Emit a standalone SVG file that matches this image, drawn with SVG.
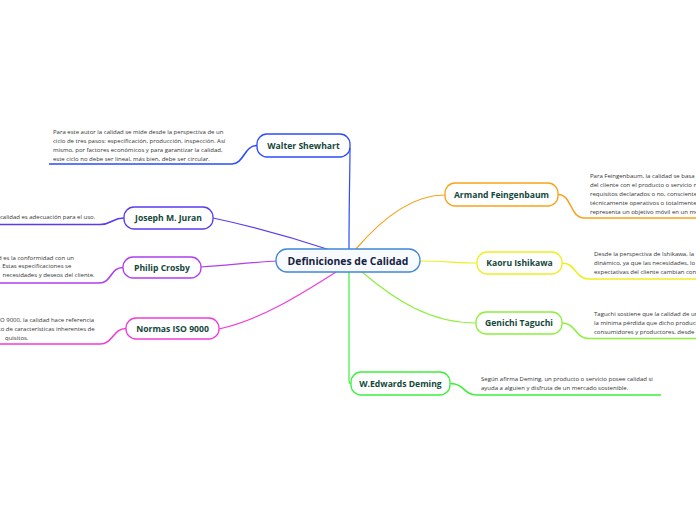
<svg xmlns="http://www.w3.org/2000/svg" width="696" height="520" viewBox="0 0 696 520">
<style>
.node rect{fill:#ffffff;stroke-width:1.3}
.lbl{font-family:"Open Sans","Noto Sans",sans-serif;font-weight:bold;font-size:8.6px;fill:#14473a;text-anchor:middle;dominant-baseline:central}
.desc{font-family:"Open Sans","Noto Sans",sans-serif;font-size:6px;fill:#333333}
.conn path{fill:none;stroke-width:1.2}
.ul{fill:none;stroke-width:1.6}
</style>
<rect width="696" height="520" fill="#ffffff"/>
<g id="connectors" class="conn">
<path d="M349 249 C349 200 350 170 350 148" stroke="#2b4cff"/>
<path d="M213 218 C260 228 300 240 330 250" stroke="#5a3cf0"/>
<path d="M201 267 C230 265 255 262 278 261" stroke="#b03ef0"/>
<path d="M219 329 C260 320 300 295 336 272" stroke="#f03cd8"/>
<path d="M356 249 C385 215 415 195 445 195" stroke="#f7a21b"/>
<path d="M420 261 C440 261 460 263 477 263" stroke="#eeee22"/>
<path d="M362 272 C395 300 430 323 476 323" stroke="#8cf03c"/>
<path d="M349 272 L349 380 Q349 384 352 384" stroke="#3cf03c"/>
</g>
<g id="center">
<rect x="276" y="249" width="144" height="23" rx="11" fill="#f7fbff" stroke="#3f86d6" stroke-width="1.3"/>
<text x="348" y="260.5" class="lbl" style="font-size:10.4px;fill:#16223f">Definiciones de Calidad</text>
</g>
<g id="walter" class="node">
<rect x="257" y="134" width="93" height="23" rx="10" stroke="#2b4cff"/>
<text x="303.5" y="145.5" class="lbl">Walter Shewhart</text>
<path class="ul" d="M257 145.5 C244 145.5 244 164 232 164 L49 164" stroke="#2b4cff"/>
<text class="desc" x="53" y="133.5">Para este autor la calidad se mide desde la perspectiva de un</text>
<text class="desc" x="53" y="142.5">ciclo de tres pasos: especificación,  producción, inspección. Así</text>
<text class="desc" x="53" y="151.5">mismo, por factores económicos y para garantizar la calidad,</text>
<text class="desc" x="53" y="160.5">este ciclo no debe ser lineal, más bien, debe ser circular.</text>
</g>
<g id="juran" class="node">
<rect x="124" y="207" width="89" height="22" rx="10" stroke="#5a3cf0"/>
<text x="168.5" y="218" class="lbl">Joseph M. Juran</text>
<path class="ul" d="M124 218 C112 218 112 224.5 100 224.5 L0 224.5" stroke="#5a3cf0"/>
<text class="desc" x="0" y="218.5">calidad es adecuación para el uso.</text>
</g>
<g id="crosby" class="node">
<rect x="123" y="257" width="78" height="21" rx="10" stroke="#b03ef0"/>
<text x="162" y="267.5" class="lbl">Philip Crosby</text>
<path class="ul" d="M123 267.5 C110 267.5 112 283 99 283 L0 283" stroke="#b03ef0"/>
<text class="desc" x="-2" y="259.5">d es la conformidad con un</text>
<text class="desc" x="-1" y="268">. Estas especificaciones se</text>
<text class="desc" x="2.5" y="277">necesidades y deseos del cliente.</text>
</g>
<g id="iso" class="node">
<rect x="126" y="318" width="93" height="21" rx="10" stroke="#f03cd8"/>
<text x="172.5" y="328.5" class="lbl">Normas ISO 9000</text>
<path class="ul" d="M126 328.5 C113 328.5 113 344 100 344 L0 344" stroke="#f03cd8"/>
<text class="desc" x="0" y="321.5">O 9000, la calidad hace referencia</text>
<text class="desc" x="-1.5" y="330.5">to de características inherentes de</text>
<text class="desc" x="5" y="339.5">quisitos.</text>
</g>
<g id="armand" class="node">
<rect x="445" y="183" width="113" height="23" rx="10" stroke="#f7a21b"/>
<text x="501.5" y="194.5" class="lbl">Armand Feingenbaum</text>
<path class="ul" d="M558 194.5 C572 194.5 570 218 584 218 L696 218" stroke="#f7a21b"/>
<text class="desc" x="590" y="177.5">Para Feingenbaum, la calidad se basa e</text>
<text class="desc" x="590" y="186.5">del cliente con el producto o servicio m</text>
<text class="desc" x="590" y="195.5">requisitos declarados o no, conscientes</text>
<text class="desc" x="590" y="204.5">técnicamente operativos o totalmente s</text>
<text class="desc" x="590" y="213.5">representa un objetivo móvil en un mer</text>
</g>
<g id="kaoru" class="node">
<rect x="477" y="252" width="85" height="22" rx="10" stroke="#eeee22"/>
<text x="519.5" y="263" class="lbl">Kaoru Ishikawa</text>
<path class="ul" d="M562 263 C576 263 575 279 589 279 L696 279" stroke="#eeee22"/>
<text class="desc" x="594" y="256">Desde la perspectiva de Ishikawa, la</text>
<text class="desc" x="594" y="265">dinámico, ya que las necesidades, lo</text>
<text class="desc" x="594" y="273.5">expectativas del cliente cambian con</text>
</g>
<g id="genichi" class="node">
<rect x="476" y="312" width="86" height="22" rx="10" stroke="#8cf03c"/>
<text x="519" y="323" class="lbl">Genichi Taguchi</text>
<path class="ul" d="M562 323 C576 323 575 338.5 589 338.5 L696 338.5" stroke="#8cf03c"/>
<text class="desc" x="594" y="316">Taguchi sostiene que la calidad de un</text>
<text class="desc" x="594" y="325">la mínima pérdida que dicho product</text>
<text class="desc" x="594" y="333.5">consumidores y productores, desde e</text>
</g>
<g id="deming" class="node">
<rect x="351" y="372" width="99" height="23" rx="10" stroke="#3cf03c"/>
<text x="400.5" y="383.5" class="lbl">W.Edwards Deming</text>
<path class="ul" d="M450 383.5 C465 383.5 463 395 477 395 L661 395" stroke="#3cf03c"/>
<text class="desc" x="481" y="381">Según afirma Deming, un producto o servicio posee calidad si</text>
<text class="desc" x="481" y="390">ayuda a alguien y disfruta de un mercado sostenible.</text>
</g>
</svg>
